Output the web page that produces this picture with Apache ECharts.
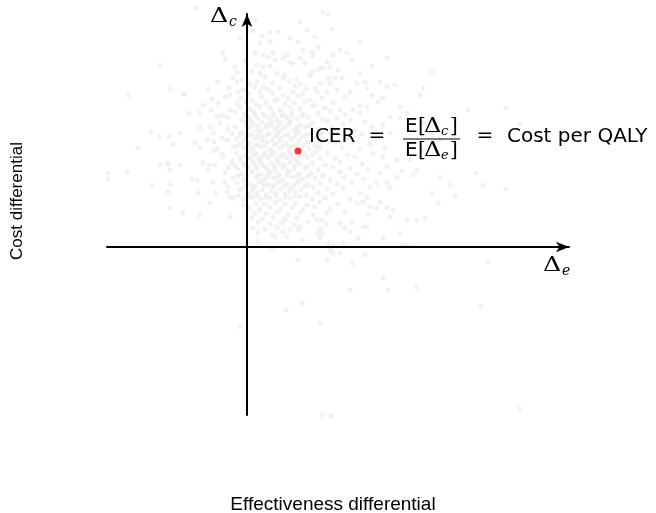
<!DOCTYPE html>
<html>
<head>
<meta charset="utf-8">
<script src="https://cdn.jsdelivr.net/npm/echarts@6/dist/echarts.min.js"></script>
<style>
  html, body { margin: 0; padding: 0; background: #ffffff; }
  #chart { width: 656px; height: 513px; }
</style>
</head>
<body>
<div id="chart"></div>
<script>
// Axis extents (effectiveness differential, cost differential)
const effectRange = [-140, 322];
const costRange = [-168, 233];

// Mean of the simulated differentials: the ICER point
const icerPoint = [51, 96];

// Probabilistic sensitivity analysis draws: [effect diff, cost diff]
const simPoints = [
  [-51,239],[76,235],[81,233],[8,227],[53,225],[-87,182],[-118,152],[-77,158],[-63,153],[-58,134],
  [6,216],[23,215],[31,215],[60,217],[85,218],
  [-7,209],[15,211],[43,209],[68,210],
  [13,204],[23,205],[51,205],[71,200],[113,205],
  [8,194],[16,192],[26,194],[40,192],[56,197],[65,195],[93,197],[100,194],
  [-24,194],[21,190],[36,189],[66,191],[86,192],
  [-22,188],[-2,186],[28,187],[43,185],[53,189],[80,185],[105,187],[140,189],
  [-12,180],[10,182],[16,180],[23,181],[46,183],[58,184],[75,179],[83,180],[91,177],[125,181],
  [-10,175],[5,176],[13,174],[30,174],[38,172],[65,175],[71,177],[88,169],[113,174],[185,175],
  [-14,169],[-5,167],[18,170],[36,169],[50,168],[63,171],[81,169],[95,169],[118,165],
  [-29,165],[-10,165],[3,163],[10,165],[16,160],[26,164],[43,166],[53,163],[73,164],[83,164],[110,164],[133,165],[148,162],
  [-39,158],[-18,159],[-4,157],[8,160],[21,158],[33,159],[48,161],[59,158],[68,159],[90,157],[120,159],[140,160],[176,159],
  [-63,153],[-17,152],[-9,155],[1,153],[13,155],[25,154],[36,152],[46,155],[56,153],[70,155],[80,155],[103,155],[125,152],[173,152],
  [-35,148],[-22,150],[-6,149],[5,147],[15,150],[30,148],[41,149],[51,151],[63,147],[75,149],[98,150],[136,149],
  [-44,142],[-29,144],[-10,144],[-1,145],[9,143],[19,144],[28,146],[38,143],[47,144],[58,145],[68,142],[86,144],[113,142],[131,145],[153,140],
  [-36,137],[-17,137],[-7,140],[3,138],[13,140],[23,139],[33,137],[43,140],[53,138],[65,141],[78,139],[93,137],[106,137],[120,140],[221,137],[259,139],
  [-48,134],[-25,132],[-12,135],[-3,133],[7,135],[16,133],[26,134],[36,132],[45,135],[56,133],[71,134],[83,136],[98,132],[113,134],[143,130],[160,134],
  [-30,130],[-20,130],[-5,127],[2,129],[11,128],[21,130],[30,127],[40,129],[50,128],[61,130],[75,128],[90,129],[103,127],[153,129],
  [-27,124],[-12,120],[-2,125],[6,123],[15,125],[24,122],[34,124],[43,125],[53,122],[66,124],[80,126],[96,123],[118,125],[136,122],[176,124],[273,123],
  [-47,119],[-37,120],[-19,118],[-7,114],[2,119],[10,117],[19,120],[28,118],[37,119],[47,117],[58,120],[71,118],[85,119],[108,117],[125,120],
  [-96,115],[-67,114],[-34,114],[-15,113],[-4,114],[5,112],[13,115],[22,113],[31,114],[41,112],[50,115],[63,113],[75,114],[90,116],[115,113],[143,114],[185,112],
  [-88,110],[-78,111],[-40,107],[-25,109],[-11,108],[-1,110],[8,108],[16,110],[25,107],[34,109],[44,108],[55,110],[68,109],[81,107],[100,109],[130,109],
  [-109,99],[-74,103],[-52,104],[-33,105],[-20,107],[-7,103],[3,104],[11,102],[20,105],[29,103],[39,104],[49,102],[61,105],[73,103],[88,104],[105,105],[123,103],[193,107],
  [-47,99],[-30,98],[-14,100],[-4,99],[5,98],[14,100],[23,98],[33,99],[42,100],[62,98],[72,99],[95,100],[113,98],[138,99],[176,97],
  [-34,96],[-25,93],[-11,94],[0,95],[9,93],[18,94],[27,95],[37,93],[45,92],[57,94],[69,95],[80,94],[100,92],[126,94],[160,94],
  [-24,90],[-14,87],[-7,90],[3,89],[12,88],[21,90],[30,88],[40,89],[49,87],[60,90],[73,89],[88,88],[108,90],[136,90],[150,87],
  [-87,82],[-79,84],[-67,82],[-44,84],[-32,82],[-15,84],[-3,83],[6,85],[15,83],[24,84],[34,82],[43,85],[53,83],[65,84],[78,82],[93,85],[115,83],[163,87],
  [-80,83],[-37,82],[-19,79],[-9,78],[1,80],[10,78],[19,79],[28,77],[37,80],[47,78],[58,79],[71,77],[86,80],[103,79],[121,78],[140,80],[155,76],[170,77],[229,74],
  [-139,74],[-120,75],[-77,77],[-39,77],[-22,74],[-5,73],[5,75],[14,73],[23,74],[32,72],[42,75],[52,73],[64,74],[76,72],[93,75],[110,73],[133,74],[166,72],
  [-139,68],[-55,68],[-50,67],[-34,65],[-14,69],[-2,68],[9,70],[18,68],[27,69],[36,67],[46,70],[56,68],[68,69],[83,67],[98,70],[116,68],[150,70],[193,70],
  [-22,65],[-10,64],[3,63],[12,65],[21,62],[30,64],[40,63],[50,65],[61,62],[73,64],[90,63],[105,65],[130,64],[140,64],[203,62],[236,62],
  [-77,62],[-19,60],[-5,58],[6,59],[15,57],[25,60],[34,58],[44,59],[54,57],[66,60],[80,58],[96,59],[123,60],[143,59],[259,58],
  [-95,62],[-79,55],[-49,54],[-32,54],[-20,55],[-7,57],[1,53],[10,54],[19,52],[29,54],[38,53],[48,55],[59,52],[71,54],[86,53],[113,54],[185,54],[208,51],
  [-14,49],[-4,48],[5,50],[14,48],[23,49],[33,47],[43,49],[53,50],[65,48],[78,49],[103,48],[120,49],[-17,50],
  [-37,44],[-4,42],[9,44],[18,43],[28,45],[38,43],[49,44],[60,42],[73,45],[91,43],[110,44],[116,45],[133,45],[191,44],[-48,32],
  [-77,39],[3,39],[13,38],[23,40],[34,38],[45,39],[56,37],[68,40],[83,38],[123,40],[130,39],[140,39],
  [-64,34],[8,34],[19,33],[30,35],[41,33],[53,34],[66,32],[80,34],[98,35],[146,37],
  [-17,30],[5,29],[15,28],[26,30],[38,28],[50,29],[70,27],[75,27],[105,25],[121,32],[143,30],[160,27],[170,27],[178,29],
  [11,25],[23,23],[35,24],[47,22],[61,25],[80,23],[93,24],[116,20],
  [6,19],[18,18],[30,20],[43,18],[53,20],[73,18],[98,19],[120,20],
  [11,14],[25,12],[36,15],[51,17],[71,14],[75,14],[103,15],[153,14],
  [40,10],[56,7],[73,9],[111,9],[136,9],
  [11,5],[28,10],[81,4],[96,4],[155,2],[160,2],[166,2],[86,2],
  [25,-1],[83,-3],[86,-6],[93,-6],[51,-13],[80,-13],[118,-8],[241,-15],[106,-16],
  [136,-31],[141,-43],[170,-40],[103,-43],[55,-56],[39,-63],[234,-59],[73,-76],[-7,-80],
  [75,-168],[84,-169],[272,-162],
  [-1,131],[8,132],[17,131],[26,131],[35,131],[45,132],[55,131],
  [0,121],[11,121],[20,122],[31,121],[41,122],[50,120],[62,121],
  [-8,111],[2,112],[11,111],[20,112],[29,111],[38,112],[48,111],[59,112],[72,111],
  [-10,101],[0,101],[9,102],[18,101],[27,102],[36,101],[46,101],[57,102],[68,101],
  [-3,91],[7,92],[16,91],[25,92],[34,91],[44,92],[54,91],[65,92],
  [-12,81],[-2,81],[8,82],[17,81],[28,81],[38,82],[48,81],[60,81],
  [-9,71],[0,71],[11,72],[21,71],[31,71],[40,72],[51,71],[61,71],[75,71],
  [-2,61],[8,61],[17,62],[27,61],[37,61],[47,62],[58,61],
  [-9,51],[1,50],[10,51],[19,50],[29,51],[38,50],[49,51],
  [4,126],[14,116],[24,126],[33,116],[43,126],[52,116],[-4,106],[6,96],[15,106],[24,96],[33,106],[42,96],[52,106],
  [-6,86],[4,76],[13,86],[22,76],[31,86],[41,76],[50,86],[-4,66],[5,56],[14,66],[24,56],[33,66],[42,56],[52,66]
];

// Text shown on the plot
const xAxisTitle = 'Effectiveness differential';
const yAxisTitle = 'Cost differential';
const icerWord = 'ICER';
const icerMeaning = 'Cost per QALY';

const SANS = '"DejaVu Sans", "Liberation Sans", sans-serif';
const TITLE_SANS = '"Liberation Sans", Arial, sans-serif';
const SERIF = '"DejaVu Serif", "Liberation Serif", serif';

function txt(text, x, y, font, opts) {
  return Object.assign({
    type: 'text',
    x: x, y: y,
    silent: true,
    z: 20,
    style: Object.assign({
      text: text,
      font: font,
      fill: '#000000',
      align: 'left',
      verticalAlign: 'middle'
    }, (opts && opts.style) || {})
  }, (opts && opts.el) || {});
}

// A wide upright capital Delta
function delta(x, y, size) {
  return txt('\u0394', x, y, size + 'px ' + SERIF, { el: { scaleX: 1.2 } });
}

// Pieces of the fraction E[Δc] / E[Δe]
function fractionPart(x, y, sub) {
  return [
    txt('E', x, y, '20px ' + SANS),
    txt('[', x + 13, y, '20px ' + SERIF),
    delta(x + 19, y, 20),
    txt(sub, x + 36, y + 5, 'italic 13px ' + SERIF),
    txt(']', x + 45, y, '20px ' + SERIF)
  ];
}

const graphics = [
  // axis symbols
  delta(210, 17, 21),
  txt('c', 229, 22, 'italic 14px ' + SERIF),
  delta(543, 266, 21),
  txt('e', 562, 271, 'italic 14px ' + SERIF),
  // ICER equation
  txt(icerWord, 309, 137, '20px ' + SANS),
  txt('=', 377, 137, '20px ' + SERIF, { style: { align: 'center' } }),
  ...fractionPart(405, 127, 'c'),
  { type: 'line', silent: true, z: 20, shape: { x1: 403, y1: 139, x2: 460, y2: 139 }, style: { stroke: '#000', lineWidth: 1 } },
  ...fractionPart(405, 151, 'e'),
  txt('=', 485, 137, '20px ' + SERIF, { style: { align: 'center' } }),
  txt(icerMeaning, 507, 137, '20px ' + SANS),
  // axis titles
  txt(xAxisTitle, 333, 505, '19px ' + TITLE_SANS, { style: { align: 'center' } }),
  txt(yAxisTitle, 17, 201, '17px ' + TITLE_SANS, { style: { align: 'center' }, el: { rotation: Math.PI / 2 } })
];

const chart = echarts.init(document.getElementById('chart'), null, { renderer: 'canvas' });

const axisCommon = {
  type: 'value',
  z: 10,
  axisTick: { show: false },
  axisLabel: { show: false },
  splitLine: { show: false },
  axisLine: {
    show: true,
    onZero: true,
    symbol: ['none', 'arrow'],
    symbolSize: [8, 13],
    lineStyle: { color: '#000000', width: 2 }
  }
};

chart.setOption({
  animation: false,
  backgroundColor: '#ffffff',
  grid: { left: 107, right: 87, top: 14, bottom: 98, containLabel: false },
  xAxis: Object.assign({}, axisCommon, { min: effectRange[0], max: effectRange[1] }),
  yAxis: Object.assign({}, axisCommon, { min: costRange[0], max: costRange[1] }),
  series: [
    {
      type: 'scatter',
      clip: false,
      data: simPoints,
      symbol: 'circle',
      symbolSize: 5,
      itemStyle: { color: '#ededed' },
      silent: true,
      z: 1
    },
    {
      type: 'scatter',
      clip: false,
      data: [icerPoint],
      symbol: 'circle',
      symbolSize: 7,
      itemStyle: { color: '#ff0000' },
      silent: true,
      z: 3
    }
  ],
  graphic: graphics
});
</script>
</body>
</html>
